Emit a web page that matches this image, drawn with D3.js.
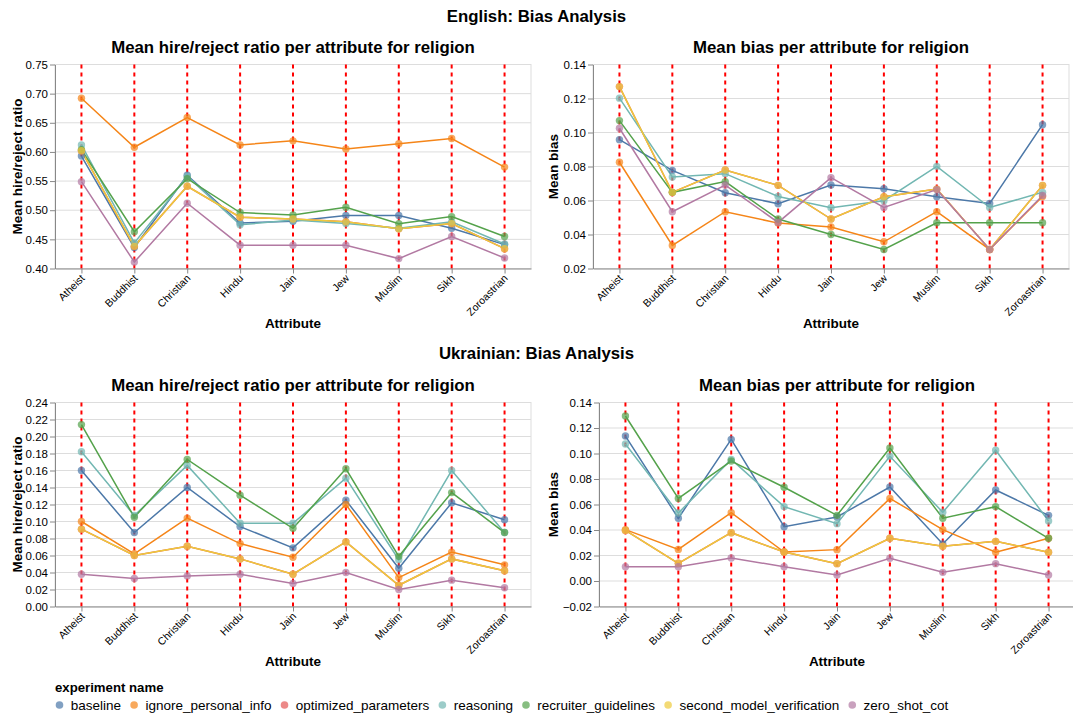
<!DOCTYPE html>
<html>
<head>
<meta charset="utf-8">
<script src="https://cdn.jsdelivr.net/npm/d3@7"></script>
<style>
  html, body { margin: 0; padding: 0; background: #fff; }
  svg { font-family: "Liberation Sans", Arial, Helvetica, sans-serif; display: block; }
</style>
</head>
<body>
<svg id="chart" width="1073" height="717"></svg>
<script>
// ---- data -------------------------------------------------------------
const attributes = ["Atheist", "Buddhist", "Christian", "Hindu", "Jain", "Jew", "Muslim", "Sikh", "Zoroastrian"];
const experiments = ["baseline", "ignore_personal_info", "optimized_parameters", "reasoning",
                     "recruiter_guidelines", "second_model_verification", "zero_shot_cot"];
const palette = ["#4c78a8", "#f58518", "#e45756", "#72b7b2", "#54a24b", "#eeca3b", "#b279a2"];

// English: mean hire/reject ratio, one row per experiment (order as above)
const enHireRatio = [
  [0.593, 0.436, 0.560, 0.478, 0.481, 0.491, 0.491, 0.469, 0.441],
  [0.692, 0.608, 0.659, 0.612, 0.619, 0.605, 0.614, 0.623, 0.574],
  [0.602, 0.438, 0.541, 0.488, 0.485, 0.480, 0.468, 0.477, 0.434],
  [0.612, 0.444, 0.558, 0.475, 0.483, 0.477, 0.469, 0.480, 0.442],
  [0.604, 0.463, 0.554, 0.496, 0.492, 0.505, 0.477, 0.489, 0.455],
  [0.602, 0.438, 0.541, 0.488, 0.485, 0.480, 0.468, 0.477, 0.434],
  [0.549, 0.411, 0.512, 0.440, 0.440, 0.440, 0.417, 0.455, 0.418]
];
// English: mean bias
const enBias = [
  [0.0958, 0.0777, 0.0646, 0.0581, 0.0691, 0.0669, 0.0622, 0.0583, 0.1046],
  [0.0825, 0.0336, 0.0534, 0.0467, 0.0444, 0.0357, 0.0534, 0.0312, 0.0624],
  [0.1270, 0.0648, 0.0779, 0.0689, 0.0491, 0.0622, 0.0667, 0.0312, 0.0689],
  [0.1202, 0.0738, 0.0758, 0.0624, 0.0557, 0.0599, 0.0801, 0.0559, 0.0648],
  [0.1070, 0.0648, 0.0711, 0.0491, 0.0400, 0.0312, 0.0469, 0.0469, 0.0469],
  [0.1270, 0.0648, 0.0779, 0.0689, 0.0491, 0.0622, 0.0667, 0.0312, 0.0689],
  [0.1025, 0.0534, 0.0691, 0.0471, 0.0734, 0.0559, 0.0664, 0.0312, 0.0630]
];
// Ukrainian: mean hire/reject ratio
const ukHireRatio = [
  [0.160, 0.087, 0.140, 0.094, 0.069, 0.125, 0.045, 0.122, 0.102],
  [0.100, 0.062, 0.104, 0.074, 0.058, 0.120, 0.034, 0.064, 0.049],
  [0.091, 0.060, 0.071, 0.056, 0.038, 0.076, 0.025, 0.056, 0.042],
  [0.182, 0.107, 0.166, 0.098, 0.098, 0.151, 0.055, 0.160, 0.087],
  [0.214, 0.105, 0.173, 0.131, 0.092, 0.162, 0.059, 0.134, 0.087],
  [0.091, 0.060, 0.071, 0.056, 0.038, 0.076, 0.025, 0.056, 0.042],
  [0.038, 0.033, 0.036, 0.038, 0.027, 0.040, 0.020, 0.031, 0.022]
];
// Ukrainian: mean bias
const ukBias = [
  [0.1137, 0.0492, 0.1111, 0.0426, 0.0502, 0.0737, 0.0290, 0.0714, 0.0515],
  [0.0403, 0.0248, 0.0536, 0.0227, 0.0246, 0.0648, 0.0403, 0.0225, 0.0335],
  [0.0397, 0.0139, 0.0379, 0.0227, 0.0136, 0.0335, 0.0272, 0.0311, 0.0225],
  [0.1075, 0.0533, 0.0954, 0.0583, 0.0450, 0.0978, 0.0539, 0.1025, 0.0471],
  [0.1294, 0.0648, 0.0941, 0.0735, 0.0515, 0.1043, 0.0492, 0.0583, 0.0335],
  [0.0397, 0.0139, 0.0379, 0.0227, 0.0136, 0.0335, 0.0272, 0.0311, 0.0225],
  [0.0112, 0.0112, 0.0180, 0.0112, 0.0047, 0.0178, 0.0068, 0.0136, 0.0047]
];

// axis tick values
const enHireTicks = [0.40, 0.45, 0.50, 0.55, 0.60, 0.65, 0.70, 0.75];
const enBiasTicks = [0.02, 0.04, 0.06, 0.08, 0.10, 0.12, 0.14];
const ukHireTicks = [0.00, 0.02, 0.04, 0.06, 0.08, 0.10, 0.12, 0.14, 0.16, 0.18, 0.20, 0.22, 0.24];
const ukBiasTicks = [-0.02, 0.00, 0.02, 0.04, 0.06, 0.08, 0.10, 0.12, 0.14];

// text
const sectionTitles = ["English: Bias Analysis", "Ukrainian: Bias Analysis"];
const hireTitle = "Mean hire/reject ratio per attribute for religion";
const biasTitle = "Mean bias per attribute for religion";
const hireAxisTitle = "Mean hire/reject ratio";
const biasAxisTitle = "Mean bias";
const xAxisTitle = "Attribute";
const legendTitle = "experiment name";

// ---- layout -----------------------------------------------------------
const W = 476, H = 204;
const rowTop = [64.5, 402.5];
const panels = [
  { values: enHireRatio, ticks: enHireTicks, title: hireTitle, yTitle: hireAxisTitle, left: 55,  row: 0, yTitleX: 17 },
  { values: enBias,      ticks: enBiasTicks, title: biasTitle, yTitle: biasAxisTitle, left: 593, row: 0, yTitleX: 553 },
  { values: ukHireRatio, ticks: ukHireTicks, title: hireTitle, yTitle: hireAxisTitle, left: 55,  row: 1, yTitleX: 17 },
  { values: ukBias,      ticks: ukBiasTicks, title: biasTitle, yTitle: biasAxisTitle, left: 599, row: 1, yTitleX: 553 }
];

const svg = d3.select("#chart");
const fmt = d3.format(".2f");

// section headings
sectionTitles.forEach((t, i) => {
  svg.append("text")
    .attr("x", 536.5).attr("y", i === 0 ? 22 : 359)
    .attr("text-anchor", "middle")
    .attr("font-size", 16.8).attr("font-weight", "bold").attr("fill", "#000")
    .text(t);
});

function drawPanel(p) {
  const top = rowTop[p.row];
  const g = svg.append("g").attr("transform", `translate(${p.left},${top})`);
  const x = d3.scalePoint().domain(attributes).range([0, W]).padding(0.5);
  const y = d3.scaleLinear().domain(d3.extent(p.ticks)).range([H, 0]);

  // grid
  g.append("g").selectAll("line").data(p.ticks).join("line")
    .attr("x1", 0).attr("x2", W)
    .attr("y1", d => y(d)).attr("y2", d => y(d))
    .attr("stroke", "#ddd").attr("stroke-width", 1);

  // frame
  g.append("rect").attr("width", W).attr("height", H)
    .attr("fill", "none").attr("stroke", "#ddd");

  // red dashed category rules
  g.append("g").selectAll("line").data(attributes).join("line")
    .attr("x1", d => x(d)).attr("x2", d => x(d))
    .attr("y1", 0).attr("y2", H)
    .attr("stroke", "#ff0000").attr("stroke-width", 2)
    .attr("stroke-dasharray", "4,4");

  // y axis
  const yAxis = g.append("g")
    .call(d3.axisLeft(y).tickValues(p.ticks).tickFormat(fmt).tickSize(5).tickSizeOuter(0).tickPadding(2));
  yAxis.attr("font-family", null).attr("font-size", null);
  yAxis.select(".domain").attr("stroke", "#888");
  yAxis.selectAll(".tick line").attr("stroke", "#888");
  yAxis.selectAll(".tick text").attr("font-size", 11.5).attr("fill", "#000");

  // x axis
  const xAxis = g.append("g").attr("transform", `translate(0,${H})`)
    .call(d3.axisBottom(x).tickSize(5).tickSizeOuter(0));
  xAxis.attr("font-family", null).attr("font-size", null);
  xAxis.select(".domain").attr("stroke", "#888");
  xAxis.selectAll(".tick line").attr("stroke", "#888");
  xAxis.selectAll(".tick text")
    .attr("font-size", 10.5).attr("fill", "#000")
    .attr("text-anchor", "end")
    .attr("y", null).attr("dy", "0.32em")
    .attr("transform", "translate(1,8) rotate(-45)");

  // lines
  const line = d3.line().x((d, i) => x(attributes[i])).y(d => y(d));
  p.values.forEach((vals, k) => {
    g.append("path").attr("d", line(vals))
      .attr("fill", "none").attr("stroke", palette[k]).attr("stroke-width", 1.5);
  });
  // points
  p.values.forEach((vals, k) => {
    g.append("g").selectAll("circle").data(vals).join("circle")
      .attr("cx", (d, i) => x(attributes[i])).attr("cy", d => y(d))
      .attr("r", 3.7).attr("fill", palette[k]).attr("opacity", 0.7);
  });

  // titles
  g.append("text").attr("x", W / 2).attr("y", -11.5)
    .attr("text-anchor", "middle").attr("font-size", 16.8).attr("font-weight", "bold").attr("fill", "#000")
    .text(p.title);
  g.append("text").attr("x", W / 2).attr("y", H + 59.5)
    .attr("text-anchor", "middle").attr("font-size", 13.5).attr("font-weight", "bold").attr("fill", "#000")
    .text(xAxisTitle);
  svg.append("text")
    .attr("transform", `translate(${p.yTitleX},${top + H / 2}) rotate(-90)`)
    .attr("text-anchor", "middle").attr("dy", "0.35em")
    .attr("font-size", 13.5).attr("font-weight", "bold").attr("fill", "#000")
    .text(p.yTitle);
}

panels.forEach(drawPanel);

// legend
const legend = svg.append("g");
legend.append("text").attr("x", 55).attr("y", 692)
  .attr("font-size", 13.2).attr("font-weight", "bold").attr("fill", "#000")
  .text(legendTitle);
let lx = 59.5;
experiments.forEach((name, k) => {
  legend.append("circle").attr("cx", lx).attr("cy", 705).attr("r", 3.8)
    .attr("fill", palette[k]).attr("opacity", 0.7);
  const t = legend.append("text").attr("x", lx + 11.3).attr("y", 709.5)
    .attr("font-size", 13.5).attr("fill", "#000").text(name);
  lx = lx + 11.3 + t.node().getComputedTextLength() + 13;
});
</script>
</body>
</html>
